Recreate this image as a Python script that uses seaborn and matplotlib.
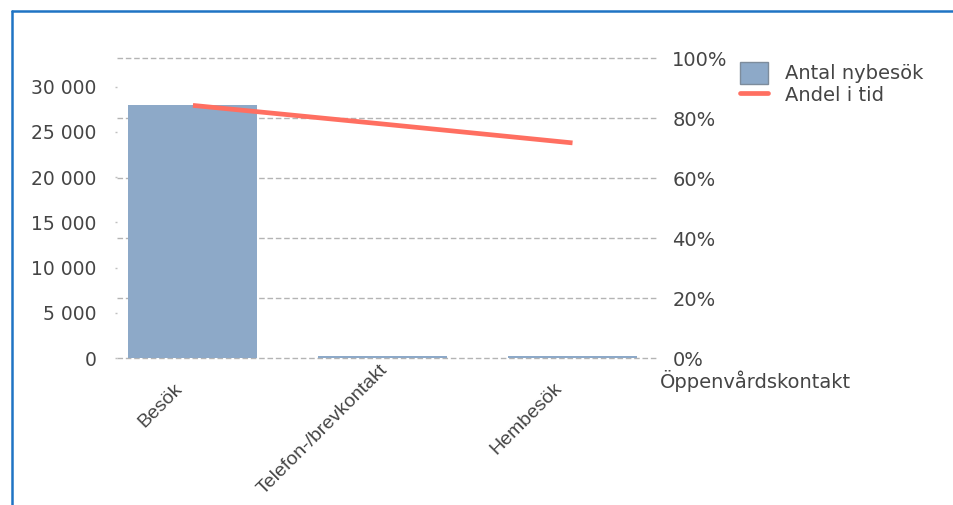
import matplotlib
matplotlib.use("Agg")
import matplotlib.pyplot as plt
import matplotlib.transforms as mtransforms
from matplotlib.lines import Line2D
from matplotlib.patches import Patch
from matplotlib.ticker import FuncFormatter, PercentFormatter
import numpy as np
import pandas as pd
import seaborn as sns

# data
categories = ["Besök", "Telefon-/brevkontakt", "Hembesök"]
antal_nybesok = [28000, 230, 190]
andel_i_tid = [0.842, 0.780, 0.717]
left_ticks = [0, 5000, 10000, 15000, 20000, 25000, 30000]
right_ticks = [0, 0.2, 0.4, 0.6, 0.8, 1.0]

df = pd.DataFrame({"kontakt": categories, "antal": antal_nybesok, "andel": andel_i_tid})

bar_color = "#8DA9C8"
line_color = "#FF6F61"
text_color = "#454545"

sns.set_style("white")
plt.rcParams["font.family"] = ["DejaVu Sans"]

fig = plt.figure(figsize=(9.54, 5.05), dpi=100)
W, H = 954, 505

# axes for grid + percent scale, then bars, then line on top
ax = fig.add_axes([117 / W, 1 - 358 / H, 540 / W, 300 / H])
ax_bar = ax.twinx()
ax_line = ax.twinx()

sns.barplot(data=df, x="kontakt", y="antal", ax=ax_bar, color=bar_color,
            width=0.68, saturation=1, edgecolor="none")
sns.lineplot(x=np.arange(len(categories)), y=df["andel"], ax=ax_line,
             color=line_color, linewidth=3.4, solid_capstyle="butt")

# percent axis (right) with dashed grid
ax.set_ylim(0, 1)
ax.set_yticks(right_ticks)
ax.yaxis.tick_right()
ax.yaxis.set_major_formatter(PercentFormatter(1, decimals=0))
ax.tick_params(axis="y", length=0, pad=11, labelsize=14, labelcolor=text_color)
ax.grid(axis="y", color="#b4b4b4", linestyle=(0, (4, 2)), linewidth=1)
ax.grid(axis="x", visible=False)
for gl in ax.yaxis.get_gridlines():
    gl.set_clip_on(False)

# count axis (left)
ax_bar.yaxis.tick_left()
ax_bar.set_ylim(0, 33180)
ax_bar.set_yticks(left_ticks)
ax_bar.yaxis.set_major_formatter(FuncFormatter(lambda v, p: f"{v:,.0f}".replace(",", " ")))
ax_bar.tick_params(axis="y", length=1.5, width=1, color="#c0c0c0", pad=13,
                   labelsize=13.5, labelcolor=text_color)
ax_bar.set_ylabel("")
ax_bar.set_xlabel("")
ax_bar.grid(False)

ax_line.set_ylim(0, 1)
ax_line.set_yticks([])
ax_line.set_ylabel("")
ax_line.grid(False)

for a in (ax, ax_bar, ax_line):
    for s in a.spines.values():
        s.set_visible(False)

ax.set_xlim(-0.4, 2.445)
ax.set_xticks([])
ax.set_xlabel("Öppenvårdskontakt", fontsize=14, color=text_color, ha="left", va="center")
ax.xaxis.set_label_coords(1.006, -0.075)

# rotated category labels under the bars
base = mtransforms.blended_transform_factory(ax.transData, ax.transAxes)
offsets = [(-7, -22), (8, -3), (-7, -22)]
clip = mtransforms.TransformedBbox(mtransforms.Bbox([[0, 0], [1, (H - 362) / H]]), fig.transFigure)
for i, cat in enumerate(categories):
    dx, dy = offsets[i]
    t = ax.text(i, 0, cat, rotation=45, ha="right", va="top",
                fontsize=14, color=text_color, family=["Liberation Sans", "DejaVu Sans"],
                transform=base + mtransforms.ScaledTranslation(dx / 100, dy / 100, fig.dpi_scale_trans))
    t.set_clip_box(clip)
    t.set_clip_on(True)

# legend
handles = [Patch(facecolor=bar_color, edgecolor="#7d8c9c", linewidth=1),
           Line2D([0], [0], color=line_color, linewidth=3.4)]
fig.legend(handles, ["Antal nybesök", "Andel i tid"], loc="upper left",
           bbox_to_anchor=(740 / W, 1 - 62 / H), frameon=False, fontsize=14,
           labelcolor=text_color, borderpad=0, borderaxespad=0,
           handlelength=1.45, handleheight=1.35, handletextpad=0.85, labelspacing=0)

# blue frame around the chart
frame_color = "#1f74c4"
fig.add_artist(Line2D([12 / W, 12 / W], [0, 1 - 11 / H], color=frame_color, linewidth=1.8,
                      transform=fig.transFigure))
fig.add_artist(Line2D([12 / W, 1], [1 - 11 / H, 1 - 11 / H], color=frame_color, linewidth=1.8,
                      transform=fig.transFigure))

fig.savefig("out.png", dpi=100)
